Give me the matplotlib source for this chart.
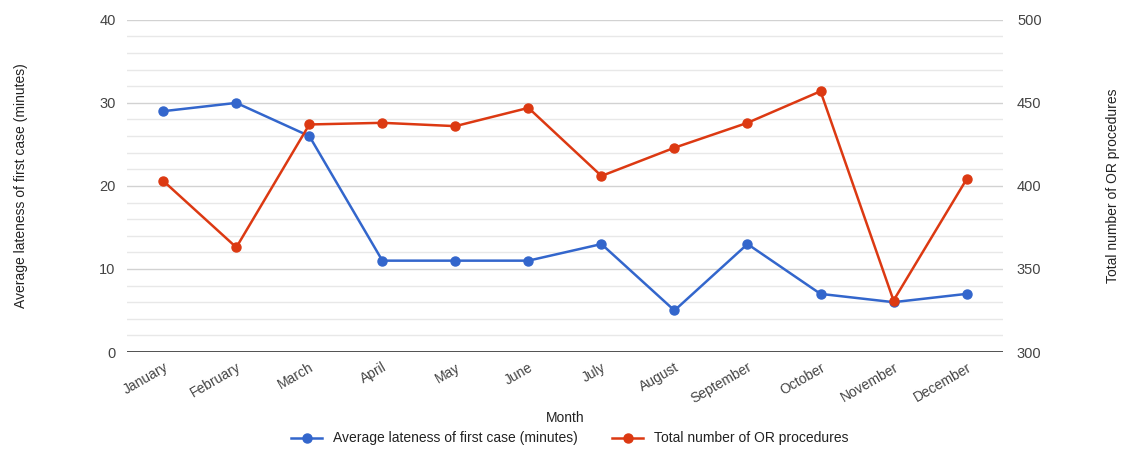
import numpy as np
import matplotlib.pyplot as plt

plt.rcParams['font.family'] = ['Liberation Sans', 'DejaVu Sans']

months = ["January", "February", "March", "April", "May", "June", "July",
          "August", "September", "October", "November", "December"]
lateness = [29, 30, 26, 11, 11, 11, 13, 5, 13, 7, 6, 7]
procedures = [403, 363, 437, 438, 436, 447, 406, 423, 438, 457, 331, 404]

blue = '#3366cc'
red = '#dc3912'
text_col = '#444444'

fig = plt.figure(figsize=(11.22, 4.51), dpi=100)
ax = fig.add_axes([0.113, 0.2195, 0.781, 0.7365])
ax2 = ax.twinx()

x = np.arange(len(months))

# grid: minor every 2 min, major every 10
ax.set_ylim(0, 40)
ax.set_xlim(-0.5, len(months) - 0.5)
for v in np.arange(2, 40.1, 2):
    major = v % 10 == 0
    ax.axhline(v, color='#d2d2d2' if major else '#e8e8e8', lw=1.0, zorder=0)
ax.axhline(0, color='#333333', lw=1.2, zorder=1)
ax.set_yticks([0, 10, 20, 30, 40])
ax2.set_ylim(300, 500)
ax2.set_yticks([300, 350, 400, 450, 500])

for a in (ax, ax2):
    for s in a.spines.values():
        s.set_visible(False)
    a.tick_params(length=0, colors=text_col, labelsize=10.5)
ax.tick_params(axis='y', pad=8)
ax2.tick_params(axis='y', pad=10)

ax.set_xticks(x)
ax.set_xticklabels(months, rotation=30, ha='right', rotation_mode='anchor')
ax.tick_params(axis='x', pad=6, labelsize=10)

l1, = ax.plot(x, lateness, color=blue, lw=1.8, marker='o', ms=6.5, zorder=3,
              label='Average lateness of first case (minutes)')
l2, = ax2.plot(x, procedures, color=red, lw=1.8, marker='o', ms=6.5, zorder=3,
               label='Total number of OR procedures')

ax.set_ylabel('Average lateness of first case (minutes)', color='#222222',
              fontsize=10)
ax.yaxis.set_label_coords(-0.113, 0.5)
ax2.set_ylabel('Total number of OR procedures', color='#222222', fontsize=10)
ax2.yaxis.set_label_coords(1.117, 0.5)
ax.set_xlabel('Month', color='#222222', fontsize=10, labelpad=3)

fig.legend(handles=[l1, l2], loc='center', bbox_to_anchor=(0.508, 0.028),
           ncol=2, frameon=False, fontsize=10, handlelength=2.2,
           columnspacing=2.5, labelcolor='#222222')

fig.savefig('out.png', dpi=100)
